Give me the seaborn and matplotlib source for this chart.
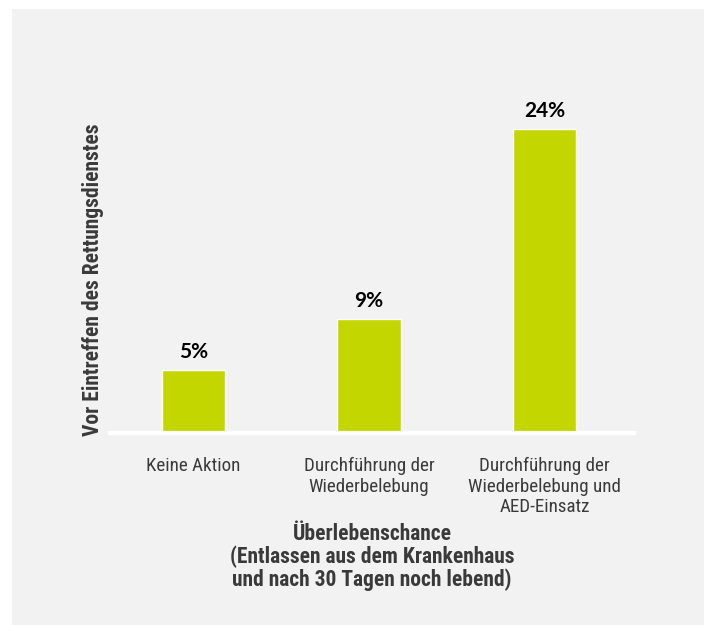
import matplotlib
matplotlib.use("Agg")
import matplotlib.pyplot as plt
import seaborn as sns
import pandas as pd
from matplotlib.patches import Rectangle

# ==============================
# DATA
# ==============================
categories = [
    "Keine Aktion",
    "Durchführung der\nWiederbelebung",
    "Durchführung der\nWiederbelebung und\nAED-Einsatz",
]
values = [5, 9, 24]
value_labels = ["5%", "9%", "24%"]

df = pd.DataFrame({"Massnahme": categories, "Wert": values})

# ==============================
# STYLE
# ==============================
sns.set_theme(style="white")
COND = ["Roboto Condensed", "Archivo Narrow", "DejaVu Sans"]
plt.rcParams["font.family"] = COND

BG = "#f2f2f2"
BAR = "#c4d600"
TXT = "#3a3a3a"

fig = plt.figure(figsize=(7.1, 6.25), dpi=100, facecolor="white")
panel = Rectangle((12 / 710, 0), (704 - 12) / 710, 1 - 9 / 625,
                  transform=fig.transFigure, facecolor=BG,
                  edgecolor="none", zorder=-10)
fig.add_artist(panel)

ax = fig.add_axes([110 / 710, 1 - 433 / 625, 524 / 710, 333 / 625])
ax.patch.set_alpha(0)

sns.barplot(data=df, x="Massnahme", y="Wert", hue="Massnahme",
            palette=[BAR] * 3, legend=False, width=0.36, ax=ax,
            saturation=1)

ax.set_xlim(-0.476, 2.51)
ax.set_ylim(0, 24 * 333 / 304)

for i, (v, lab) in enumerate(zip(values, value_labels)):
    ax.text(i, v + 0.6, lab, ha="center", va="bottom", fontsize=15,
            fontweight="bold", color="black", family=["Lato", "DejaVu Sans"])

for s in ["top", "right", "left"]:
    ax.spines[s].set_visible(False)
ax.spines["bottom"].set_color("white")
ax.spines["bottom"].set_linewidth(3)

ax.set_yticks([])
ax.tick_params(axis="x", length=0, pad=17, labelsize=13.7, colors=TXT)
for t in ax.get_xticklabels():
    t.set_linespacing(1.2)
    t.set_verticalalignment("top")

ax.set_xlabel("Überlebenschance\n(Entlassen aus dem Krankenhaus\nund nach 30 Tagen noch lebend)",
              fontsize=15.5, fontweight="bold", color=TXT, labelpad=5,
              linespacing=1.02)
ax.set_ylabel("Vor Eintreffen des Rettungsdienstes", fontsize=15.5,
              fontweight="bold", color=TXT)
ax.yaxis.set_label_coords(-0.012, 0.46)

fig.savefig("out.png", dpi=100, facecolor="white")
